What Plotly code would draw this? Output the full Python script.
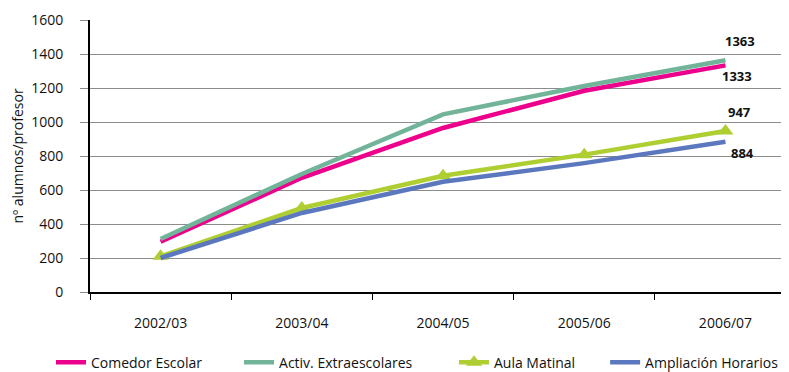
import plotly.graph_objects as go

categories = ["2002/03", "2003/04", "2004/05", "2005/06", "2006/07"]
comedor = [296, 672, 965, 1184, 1333]
activ = [312, 694, 1045, 1212, 1363]
aula = [210, 494, 684, 808, 947]
ampliacion = [200, 465, 648, 758, 884]

series = [
    ("Comedor Escolar", comedor, "#EC008C", None),
    ("Activ. Extraescolares", activ, "#72B49A", None),
    ("Aula Matinal", aula, "#AFCE32", "triangle-up"),
    ("Ampliación Horarios", ampliacion, "#5B78BE", None),
]
legend_pos = [(-0.0558, "left"), (0.2132, "left"), (0.5207, "left"), (0.993, "right")]

font_family = "Open Sans"
fig = go.Figure()
for i, (name, vals, color, sym) in enumerate(series):
    lg = "legend" if i == 0 else "legend%d" % (i + 1)
    fig.add_trace(go.Scatter(
        x=categories, y=vals, name=name, legend=lg,
        mode="lines+markers" if sym else "lines",
        line=dict(color=color, width=4.5),
        marker=dict(symbol=sym or "circle", size=14, color=color),
    ))

# end labels
label_offsets = {"Comedor Escolar": (12, -11), "Activ. Extraescolares": (15, 19),
                 "Aula Matinal": (14, 19), "Ampliación Horarios": (17, -11)}
for name, vals, color, sym in series:
    dx, dy = label_offsets[name]
    fig.add_annotation(x=categories[-1], y=vals[-1], text="<b>%d</b>" % vals[-1],
                       showarrow=False, xshift=dx, yshift=dy,
                       font=dict(family=font_family, size=13, color="#111"))

legends = {}
for i, (lx, anchor) in enumerate(legend_pos):
    key = "legend" if i == 0 else "legend%d" % (i + 1)
    legends[key] = dict(orientation="h", x=lx, xanchor=anchor, y=-0.26, yanchor="middle",
                        font=dict(size=14), bgcolor="rgba(0,0,0,0)")

fig.update_layout(
    width=789, height=372,
    margin=dict(l=82, r=8, t=12, b=88, autoexpand=False),
    paper_bgcolor="white", plot_bgcolor="white",
    font=dict(family=font_family, size=14, color="#111"),
    showlegend=True,
    **legends,
)
fig.update_xaxes(
    type="category", range=[-0.5, 4.45], automargin=False,
    showline=True, linecolor="black", linewidth=1.5,
    ticks="outside", tickson="boundaries", ticklen=6, tickcolor="black",
    ticklabelstandoff=17,
    showgrid=False, tickfont=dict(size=14),
)
fig.update_yaxes(
    range=[0, 1600], dtick=200, automargin=False,
    showline=True, linecolor="black", linewidth=2,
    showgrid=True, gridcolor="#8c8c8c", gridwidth=1,
    ticks="outside", ticklen=8, tickcolor="#8c8c8c",
    ticklabelstandoff=14,
    zeroline=True, zerolinecolor="black", zerolinewidth=1.5,
    tickfont=dict(size=14),
    title=dict(text="nº alumnos/profesor", font=dict(size=14), standoff=8),
)

fig.write_html("out.html")
